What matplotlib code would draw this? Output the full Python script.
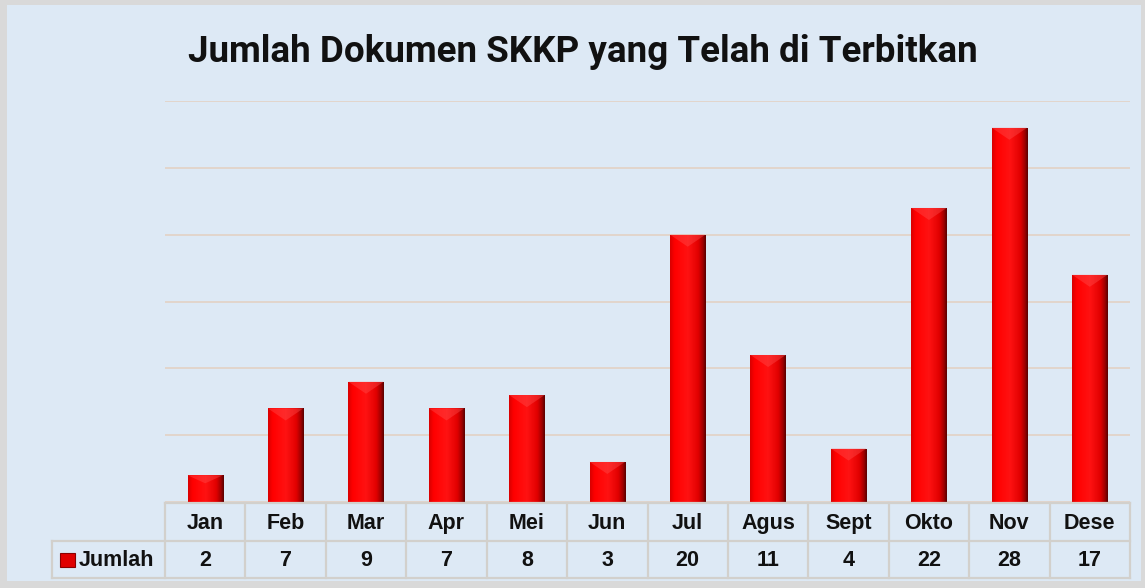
import matplotlib
matplotlib.use('Agg')
import matplotlib.pyplot as plt
import numpy as np
from matplotlib.colors import LinearSegmentedColormap
from matplotlib.transforms import blended_transform_factory
from matplotlib.patches import Rectangle
from matplotlib.lines import Line2D

# ---------------- data ----------------
months = ['Jan', 'Feb', 'Mar', 'Apr', 'Mei', 'Jun', 'Jul', 'Agus', 'Sept', 'Okto', 'Nov', 'Dese']
jumlah = [2, 7, 9, 7, 8, 3, 20, 11, 4, 22, 28, 17]
series_name = 'Jumlah'
title = 'Jumlah Dokumen SKKP yang Telah di Terbitkan'
yticks = [0, 5, 10, 15, 20, 25, 30]

# ---------------- layout helpers ----------------
W, H = 1145, 588
fig = plt.figure(figsize=(W / 100, H / 100), dpi=100, facecolor='#d9d9d9')


def fx(px):
    return px / W


def fy(py):
    return 1 - py / H


# chart area background
fig.add_artist(Rectangle((fx(7), fy(581)), fx(1141) - fx(7), fy(5) - fy(581),
                         transform=fig.transFigure, facecolor='#dde9f5',
                         edgecolor='none', zorder=-10))

ax = fig.add_axes([fx(165), fy(502), fx(1130) - fx(165), fy(101) - fy(502)])
ax.set_facecolor('none')
x = np.arange(len(months))
ax.set_xlim(-0.5, len(months) - 0.5)
ax.set_ylim(yticks[0], yticks[-1])
ax.set_yticks(yticks)
ax.set_xticks([])
ax.tick_params(left=False, labelleft=False)
for s in ax.spines.values():
    s.set_visible(False)
ax.yaxis.grid(True, color='#e2d3c8', lw=1.3, zorder=0)
ax.set_axisbelow(True)

# bars with cylinder-like shading
bars = ax.bar(x, jumlah, width=0.44, color='#ff0000', zorder=3, edgecolor='none')
cmap = LinearSegmentedColormap.from_list('cyl', [
    (0.0, '#d80000'), (0.12, '#ff0000'), (0.5, '#ff1212'),
    (0.8, '#e00000'), (0.93, '#9a0000'), (1.0, '#5a0000')])
grad = np.linspace(0, 1, 64).reshape(1, -1)
for b in bars:
    bx, bw, bh = b.get_x(), b.get_width(), b.get_height()
    im = ax.imshow(grad, extent=[bx, bx + bw, 0, bh], aspect='auto', cmap=cmap,
                   zorder=4, interpolation='bicubic')
    im.set_clip_path(b)
    # subtle lighter bevel at top
    top = min(0.9, bh * 0.3)
    ax.fill([bx, bx + bw, bx + bw * 0.5], [bh, bh, bh - top], color='#ff5050',
            alpha=0.4, zorder=5, lw=0)
ax.set_xlim(-0.5, len(months) - 0.5)
ax.set_ylim(yticks[0], yticks[-1])

# ---------------- data table ----------------
tr = blended_transform_factory(ax.transData, fig.transFigure)
line_kw = dict(color='#d2d0cc', lw=1.6, zorder=6)
y_top, y_mid, y_bot = fy(503), fy(541), fy(578)
left_px = 52
fig.add_artist(Line2D([fx(165), fx(1130)], [y_top, y_top], transform=fig.transFigure, **line_kw))
fig.add_artist(Line2D([fx(left_px), fx(1130)], [y_mid, y_mid], transform=fig.transFigure, **line_kw))
fig.add_artist(Line2D([fx(left_px), fx(1130)], [y_bot, y_bot], transform=fig.transFigure, **line_kw))
fig.add_artist(Line2D([fx(left_px), fx(left_px)], [y_mid, y_bot], transform=fig.transFigure, **line_kw))
for k in range(len(months) + 1):
    xv = k - 0.5
    ax.add_line(Line2D([xv, xv], [y_top, y_bot], transform=tr, clip_on=False, **line_kw))

font_kw = dict(family=['Liberation Sans', 'DejaVu Sans'], weight='bold', fontsize=15.5,
               color='#111111', ha='center', va='baseline')
for i, (m, v) in enumerate(zip(months, jumlah)):
    ax.text(i, fy(529), m, transform=tr, clip_on=False, **font_kw)
    ax.text(i, fy(566), str(v), transform=tr, clip_on=False, **font_kw)

# legend key
fig.add_artist(Rectangle((fx(60), fy(567)), fx(75) - fx(60), fy(553) - fy(567),
                         transform=fig.transFigure, facecolor='#e00000',
                         edgecolor='#8a0000', lw=0.8, zorder=7))
fig.text(fx(79), fy(566), series_name, ha='left', va='baseline',
         family=['Liberation Sans', 'DejaVu Sans'], weight='bold', fontsize=15.5,
         color='#111111')

# title
fig.text(fx(583), fy(62), title, ha='center', va='baseline',
         family=['Roboto', 'DejaVu Sans'], weight='bold', fontsize=26.5, color='#111111')

fig.savefig('out.png', dpi=100, facecolor=fig.get_facecolor())
